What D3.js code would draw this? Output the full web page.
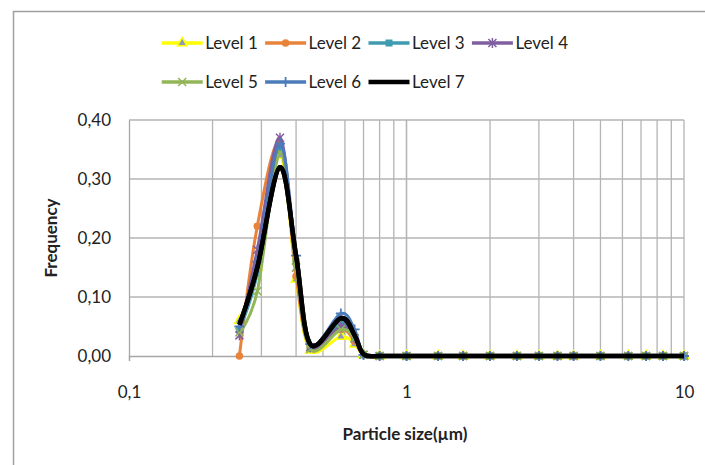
<!DOCTYPE html>
<html>
<head>
<meta charset="utf-8">
<script src="https://cdn.jsdelivr.net/npm/d3@7"></script>
<style>
  body { margin: 0; background: #fff; }
  text { font-family: Lato, "Open Sans", sans-serif; fill: #222; }
</style>
</head>
<body>
<svg id="chart" width="705" height="465"></svg>
<script>
// particle size bins (µm)
var sizes = [0.25, 0.29, 0.35, 0.4, 0.45, 0.58, 0.65, 0.7, 0.8, 1, 1.3, 1.6, 2, 2.5, 3, 3.5, 4, 5, 6.3, 7.3, 8.4, 10];

var level1 = [0.060, 0.150, 0.340, 0.130, 0.010, 0.033, 0.020, 0.002, 0, 0, 0, 0, 0, 0, 0, 0, 0, 0, 0, 0, 0, 0];
var level2 = [0.000, 0.220, 0.360, 0.135, 0.015, 0.045, 0.025, 0.002, 0, 0, 0, 0, 0, 0, 0, 0, 0, 0, 0, 0, 0, 0];
var level3 = [0.045, 0.140, 0.350, 0.160, 0.015, 0.055, 0.030, 0.002, 0, 0, 0, 0, 0, 0, 0, 0, 0, 0, 0, 0, 0, 0];
var level4 = [0.035, 0.180, 0.370, 0.150, 0.015, 0.050, 0.030, 0.002, 0, 0, 0, 0, 0, 0, 0, 0, 0, 0, 0, 0, 0, 0];
var level5 = [0.040, 0.110, 0.345, 0.150, 0.012, 0.045, 0.030, 0.002, 0, 0, 0, 0, 0, 0, 0, 0, 0, 0, 0, 0, 0, 0];
var level6 = [0.050, 0.160, 0.360, 0.170, 0.020, 0.072, 0.045, 0.002, 0, 0, 0, 0, 0, 0, 0, 0, 0, 0, 0, 0, 0, 0];
var level7 = [0.053, 0.150, 0.320, 0.170, 0.020, 0.064, 0.035, 0.003, 0, 0, 0, 0, 0, 0, 0, 0, 0, 0, 0, 0, 0, 0];

var seriesNames = ["Level 1", "Level 2", "Level 3", "Level 4", "Level 5", "Level 6", "Level 7"];
var seriesValues = [level1, level2, level3, level4, level5, level6, level7];
var seriesColors = ["#ffff00", "#e8833a", "#3f9bb0", "#7f5f9f", "#92b557", "#4b7bb8", "#000000"];
var seriesMarkers = ["triangle", "circle", "square", "asterisk", "cross", "plus", "none"];

var yTicks = [0, 0.1, 0.2, 0.3, 0.4];
var xMajor = [0.1, 1, 10];

var svg = d3.select("#chart");

// outer chart frame
svg.append("rect")
	.attr("x", 13.5).attr("y", 11.5)
	.attr("width", 720).attr("height", 480)
	.attr("fill", "none")
	.attr("stroke", "#a0a0a0")
	.attr("stroke-width", 1.5);

var x = d3.scaleLog().domain([0.1, 10]).range([129, 684]);
var y = d3.scaleLinear().domain([0, 0.4]).range([356, 120]);

// grid
var minor = [];
[0.1, 1].forEach(function(d) {
	for (var k = 1; k <= 10; k++) minor.push(d * k);
});
var grid = svg.append("g");
grid.selectAll("line.v").data(minor.filter(function(d) { return d > 0.1; }))
	.enter().append("line")
	.attr("x1", function(d) { return x(d); }).attr("x2", function(d) { return x(d); })
	.attr("y1", y(0.4)).attr("y2", y(0))
	.attr("stroke", "#b4b4b4").attr("stroke-width", 1.3);
grid.selectAll("line.h").data(yTicks.filter(function(d) { return d > 0; }))
	.enter().append("line")
	.attr("x1", x(0.1)).attr("x2", x(10))
	.attr("y1", function(d) { return y(d); }).attr("y2", function(d) { return y(d); })
	.attr("stroke", "#b4b4b4").attr("stroke-width", 1.3);

// axes
var xAxis = d3.axisBottom(x).tickValues(xMajor).tickSize(5)
	.tickFormat(function(d) { return String(d).replace(".", ","); });
var gx = svg.append("g").attr("transform", "translate(0," + y(0) + ")").call(xAxis);
gx.select(".domain").attr("stroke", "#a6a6a6").attr("stroke-width", 1.3);
gx.selectAll(".tick line").attr("stroke", "#a6a6a6").attr("stroke-width", 1.3);
gx.selectAll(".tick text").attr("y", 30).attr("font-size", 17).attr("fill", "#222")
	.style("font-family", "Lato, sans-serif");

var yAxis = d3.axisLeft(y).tickValues(yTicks).tickSize(0)
	.tickFormat(function(d) { return d3.format(".2f")(d).replace(".", ","); });
var gy = svg.append("g").attr("transform", "translate(" + x(0.1) + ",0)").call(yAxis);
gy.select(".domain").attr("stroke", "#a6a6a6").attr("stroke-width", 1.3);
gy.selectAll(".tick text").attr("x", -18).attr("font-size", 17).attr("fill", "#222")
	.style("font-family", "Lato, sans-serif");

// axis titles
svg.append("text")
	.attr("transform", "translate(57,238) rotate(-90)")
	.attr("text-anchor", "middle")
	.attr("font-size", 17).attr("font-weight", "bold")
	.text("Frequency");
svg.append("text")
	.attr("x", 405).attr("y", 440)
	.attr("text-anchor", "middle")
	.attr("font-size", 17).attr("font-weight", "bold")
	.text("Particle size(µm)");

// markers
function drawMarker(g, type, color, size) {
	var s = size;
	if (type == "triangle") {
		g.append("path").attr("d", d3.symbol(d3.symbolTriangle, 40)())
			.attr("fill", "#8a9ab8").attr("stroke", color).attr("stroke-width", 1.5);
	} else if (type == "circle") {
		g.append("circle").attr("r", 3.8).attr("fill", color);
	} else if (type == "square") {
		g.append("rect").attr("x", -3.5).attr("y", -3.5).attr("width", 7).attr("height", 7).attr("fill", color);
	} else if (type == "asterisk") {
		g.append("path").attr("d", "M-4,-4L4,4M-4,4L4,-4M0,-5L0,5")
			.attr("stroke", color).attr("stroke-width", 1.5);
	} else if (type == "cross") {
		g.append("path").attr("d", "M-4,-4L4,4M-4,4L4,-4")
			.attr("stroke", color).attr("stroke-width", 1.5);
	} else if (type == "plus") {
		g.append("path").attr("d", "M-5,0L5,0M0,-5L0,5")
			.attr("stroke", color).attr("stroke-width", 1.8);
	}
}

var line = d3.line()
	.x(function(d) { return x(d[0]); })
	.y(function(d) { return y(d[1]); })
	.curve(d3.curveCardinal.tension(0));

var plot = svg.append("g");
seriesValues.forEach(function(vals, i) {
	var pts = sizes.map(function(s, j) { return [s, vals[j]]; });
	plot.append("path")
		.datum(pts)
		.attr("d", line)
		.attr("fill", "none")
		.attr("stroke", seriesColors[i])
		.attr("stroke-width", i == 6 ? 4.5 : 3)
		.attr("stroke-linejoin", "round");
	if (seriesMarkers[i] != "none") {
		pts.forEach(function(p) {
			var g = plot.append("g").attr("transform", "translate(" + x(p[0]) + "," + y(p[1]) + ")");
			drawMarker(g, seriesMarkers[i], seriesColors[i]);
		});
	}
});
// redraw black on top of markers
plot.append("path")
	.datum(sizes.map(function(s, j) { return [s, level7[j]]; }))
	.attr("d", line)
	.attr("fill", "none")
	.attr("stroke", "#000")
	.attr("stroke-width", 4.5);

// legend
var legend = svg.append("g");
seriesNames.forEach(function(name, i) {
	var lx = 161.7 + (i % 4) * 103.4;
	var ly = i < 4 ? 43 : 82;
	var g = legend.append("g").attr("transform", "translate(" + lx + "," + ly + ")");
	g.append("line").attr("x1", 0).attr("x2", 41).attr("y1", 0).attr("y2", 0)
		.attr("stroke", seriesColors[i]).attr("stroke-width", i == 6 ? 4.5 : 3.5);
	if (seriesMarkers[i] != "none") {
		drawMarker(g.append("g").attr("transform", "translate(20.5,0)"), seriesMarkers[i], seriesColors[i]);
	}
	g.append("text").attr("x", 43.5).attr("y", 0).attr("dy", "0.35em")
		.attr("font-size", 17).text(name);
});
</script>
</body>
</html>
